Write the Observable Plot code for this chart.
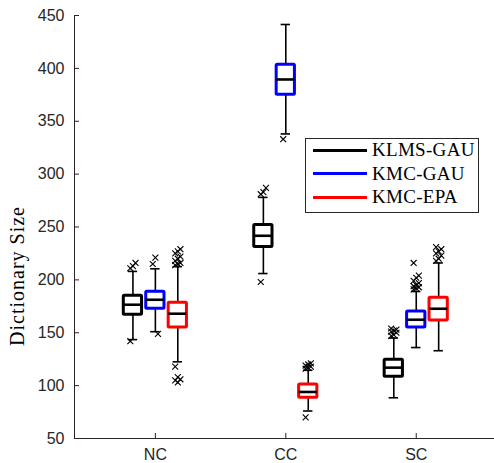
<!DOCTYPE html>
<html>
<head>
<meta charset="utf-8">
<script src="https://cdn.jsdelivr.net/npm/d3@7"></script>
<script src="https://cdn.jsdelivr.net/npm/@observablehq/plot@0.6"></script>
<style>
  body { margin: 0; background: #fff; }
  #wrap { position: relative; width: 494px; height: 463px; }
  #legend {
    position: absolute; left: 305px; top: 138px; width: 174px; height: 75px;
    box-sizing: border-box; border: 1px solid #262626; background: #fff;
    font-family: "Liberation Serif", serif; font-size: 19px; color: #000; letter-spacing: 0.3px;
  }
  .row { position: absolute; left: 7px; height: 20px; display: flex; align-items: center; }
  .row .ln { width: 54px; height: 3px; margin-right: 5px; }
  #ylabel {
    position: absolute; left: 17px; top: 276px; transform: translate(-50%, -50%) rotate(-90deg);
    font-family: "Liberation Serif", serif; font-size: 20px; letter-spacing: 1px; color: #000; white-space: nowrap;
  }
</style>
</head>
<body>
<div id="wrap"></div>
<script>
// ---- data ----
const categories = ["NC", "CC", "SC"];
const methods = ["KLMS-GAU", "KMC-GAU", "KMC-EPA"];
const methodColors = ["#000000", "#0000ff", "#ff0000"];
const yLabel = "Dictionary Size";

// rows: methods, columns: categories
const whiskerLow  = [[143.5, 206, 88.5], [151, 338, 136], [122.5, 76, 133]];
const quartile1   = [[167, 231, 108.5], [172.7, 375, 155], [155, 88.5, 161.5]];
const medians     = [[176.5, 241.7, 117], [181.2, 389.5, 162.3], [168, 94, 172.7]];
const quartile3   = [[185, 252, 124.5], [188.8, 403.5, 170], [178.4, 101, 183]];
const whiskerHigh = [[208, 278, 145], [210.5, 441.5, 189], [212.5, 114.5, 216]];

const outliersKLMS = [[211, 213, 216, 142], [281, 283, 287, 198], [147, 148, 150, 151, 152, 153, 154]];
const outliersKMCGau = [[215, 221, 149], [333], [191, 192, 193, 194, 195, 197, 199, 202, 204, 216]];
const outliersKMCEpa = [[214, 215, 216, 218, 220, 222, 225, 227, 229, 118, 108, 106, 105, 103], [116, 117, 118, 119, 120, 121, 70], [218, 220, 223, 225, 227, 229, 231]];
const outliers = [outliersKLMS, outliersKMCGau, outliersKMCEpa];

const yTicks = [50, 100, 150, 200, 250, 300, 350, 400, 450];
const yDomain = [50, 450];
const xDomain = [0.38, 3.6];

// ---- layout helpers ----
const groupOffset = 0.172;   // distance between boxes in a group (x units)
const boxHalf = 0.07;
const capHalf = 0.036;
const pos = (mi, ci) => ci + 1 + (mi - 1) * groupOffset;

const stats = [];
const points = [];
methods.forEach((m, mi) => categories.forEach((c, ci) => {
  stats.push({
    method: m, category: c, x: pos(mi, ci), color: methodColors[mi],
    lo: whiskerLow[mi][ci], q1: quartile1[mi][ci], med: medians[mi][ci],
    q3: quartile3[mi][ci], hi: whiskerHigh[mi][ci]
  });
  outliers[mi][ci].forEach((v, k) => points.push({ x: pos(mi, ci) + ((k % 3) - 1) * 0.02, y: v }));
}));

const axisColor = "#262626";

const chart = Plot.plot({
  width: 494,
  height: 463,
  marginLeft: 74,
  marginRight: 0,
  marginTop: 15,
  marginBottom: 25,
  style: { fontFamily: "'Liberation Sans', Arial, sans-serif", fontSize: "16px", color: axisColor, background: "#fff" },
  x: { domain: xDomain, axis: null },
  y: { domain: yDomain, axis: null },
  marks: [
    Plot.ruleX([xDomain[0]], { stroke: axisColor, strokeWidth: 1 }),
    Plot.ruleY([yDomain[0]], { stroke: axisColor, strokeWidth: 1 }),
    Plot.axisY({ ticks: yTicks, tickSize: -5, tickPadding: 15, label: null, stroke: axisColor, fill: axisColor, fontSize: 16 }),
    Plot.axisX({ ticks: [1, 2, 3], tickFormat: (d) => categories[d - 1], tickSize: -5, tickPadding: 15, label: null, stroke: axisColor, fill: axisColor, fontSize: 16 }),
    // whiskers
    Plot.ruleX(stats, { x: "x", y1: "lo", y2: "q1", stroke: "#000", strokeWidth: 1.6 }),
    Plot.ruleX(stats, { x: "x", y1: "q3", y2: "hi", stroke: "#000", strokeWidth: 1.6 }),
    Plot.ruleY(stats, { y: "lo", x1: (d) => d.x - capHalf, x2: (d) => d.x + capHalf, stroke: "#000", strokeWidth: 1.6 }),
    Plot.ruleY(stats, { y: "hi", x1: (d) => d.x - capHalf, x2: (d) => d.x + capHalf, stroke: "#000", strokeWidth: 1.6 }),
    // boxes
    Plot.rect(stats, { x1: (d) => d.x - boxHalf, x2: (d) => d.x + boxHalf, y1: "q1", y2: "q3", fill: "#fff", stroke: "color", strokeWidth: 3, rx: 1 }),
    Plot.ruleY(stats, { y: "med", x1: (d) => d.x - boxHalf, x2: (d) => d.x + boxHalf, stroke: "#000", strokeWidth: 2.6 }),
    // outliers
    Plot.dot(points, { x: "x", y: "y", symbol: "times", r: 2.8, stroke: "#000", strokeWidth: 1.1 })
  ]
});

const wrap = document.getElementById("wrap");
wrap.appendChild(chart);

const yl = document.createElement("div");
yl.id = "ylabel";
yl.textContent = yLabel;
wrap.appendChild(yl);

const legend = document.createElement("div");
legend.id = "legend";
methods.forEach((m, i) => {
  const row = document.createElement("div");
  row.className = "row";
  row.style.top = (1 + i * 23.5) + "px";
  const ln = document.createElement("div");
  ln.className = "ln";
  ln.style.background = methodColors[i];
  const tx = document.createElement("span");
  tx.textContent = m;
  row.appendChild(ln);
  row.appendChild(tx);
  legend.appendChild(row);
});
wrap.appendChild(legend);
</script>
</body>
</html>
